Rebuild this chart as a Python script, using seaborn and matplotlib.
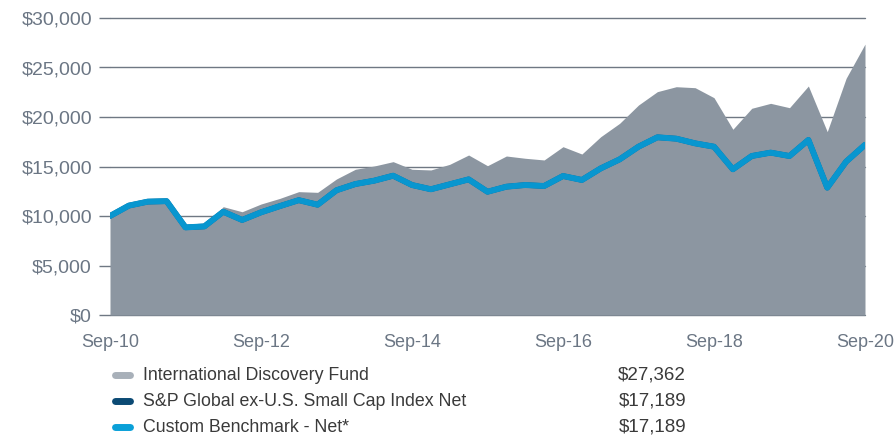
import numpy as np
import pandas as pd
import matplotlib
matplotlib.use("Agg")
import matplotlib.pyplot as plt
from matplotlib.lines import Line2D
import seaborn as sns

# ---- data (quarterly, Sep-10 .. Sep-20) ----
fund = [10000, 11100, 11500, 11550, 8900, 9000, 10940, 10430, 11210, 11780,
        12460, 12390, 13740, 14720, 15050, 15490, 14720, 14650, 15220, 16160,
        15080, 16060, 15830, 15660, 17000, 16260, 18010, 19360, 21210, 22560,
        23060, 22960, 21950, 18760, 20880, 21380, 20940, 23130, 18520, 23910,
        27362]
bench = [10000, 11050, 11450, 11500, 8850, 8950, 10430, 9600, 10370, 11000,
         11600, 11140, 12600, 13230, 13570, 14070, 13130, 12700, 13200, 13700,
         12450, 12960, 13130, 13030, 14040, 13640, 14810, 15720, 17000, 17950,
         17810, 17340, 17000, 14720, 16060, 16400, 16060, 17680, 12860, 15490,
         17189]
tick_labels = ["Sep-10", "Sep-12", "Sep-14", "Sep-16", "Sep-18", "Sep-20"]
y_ticks = [0, 5000, 10000, 15000, 20000, 25000, 30000]
legend_names = ["International Discovery Fund",
                "S&P Global ex-U.S. Small Cap Index Net",
                "Custom Benchmark - Net*"]
legend_values = ["$27,362", "$17,189", "$17,189"]

df = pd.DataFrame({"q": np.arange(len(fund)), "fund": fund, "bench": bench})

sns.set_style("white")
plt.rcParams["font.family"] = ["Liberation Sans", "DejaVu Sans"]

fig = plt.figure(figsize=(8.95, 4.36), dpi=100)
ax = fig.add_axes([110 / 895, 1 - 315 / 436, 755 / 895, 297 / 436])

grid_c = "#6f7883"
for v in y_ticks:
    ax.axhline(v, color=grid_c, lw=1.0, zorder=1, clip_on=False)

area_c = "#8c96a1"
ax.fill_between(df["q"], 0, df["fund"], color=area_c, lw=0, zorder=2)
sns.lineplot(data=df, x="q", y="bench", ax=ax, color="#0b4a74", lw=4.0,
             zorder=3, legend=False)
sns.lineplot(data=df, x="q", y="bench", ax=ax, color="#0896cf", lw=4.3,
             zorder=4, legend=False)

ax.set_xlim(0, len(fund) - 1)
ax.set_ylim(0, 30000)
ax.set_xticks(np.arange(0, len(fund), 8))
ax.set_xticklabels(tick_labels)
ax.set_yticks(y_ticks)
ax.set_yticklabels([f"${v:,.0f}" for v in y_ticks])
ax.set_xlabel("")
ax.set_ylabel("")
for s in ax.spines.values():
    s.set_visible(False)
txt_c = "#6b7684"
ax.tick_params(axis="y", length=8, width=1, color=grid_c, labelsize=14,
               labelcolor=txt_c, pad=5, left=True)
ax.tick_params(axis="x", length=0, labelsize=13, labelcolor=txt_c, pad=14)

# ---- legend ----
sw_cols = ["#a8b0b9", "#0b4a74", "#0aa0d8"]
rows_y = [375, 401, 427]
for name, val, c, yp in zip(legend_names, legend_values, sw_cols, rows_y):
    yf = 1 - yp / 436
    fig.add_artist(Line2D([115 / 895, 130 / 895], [yf, yf], color=c, lw=5,
                          solid_capstyle="round", transform=fig.transFigure))
    fig.text(143 / 895, yf, name, fontsize=12.8, color="#3a3a3a",
             va="center", ha="left")
    fig.text(686 / 895, yf, val, fontsize=13.5, color="#3a3a3a",
             va="center", ha="right")

fig.savefig("out.png", dpi=100)
